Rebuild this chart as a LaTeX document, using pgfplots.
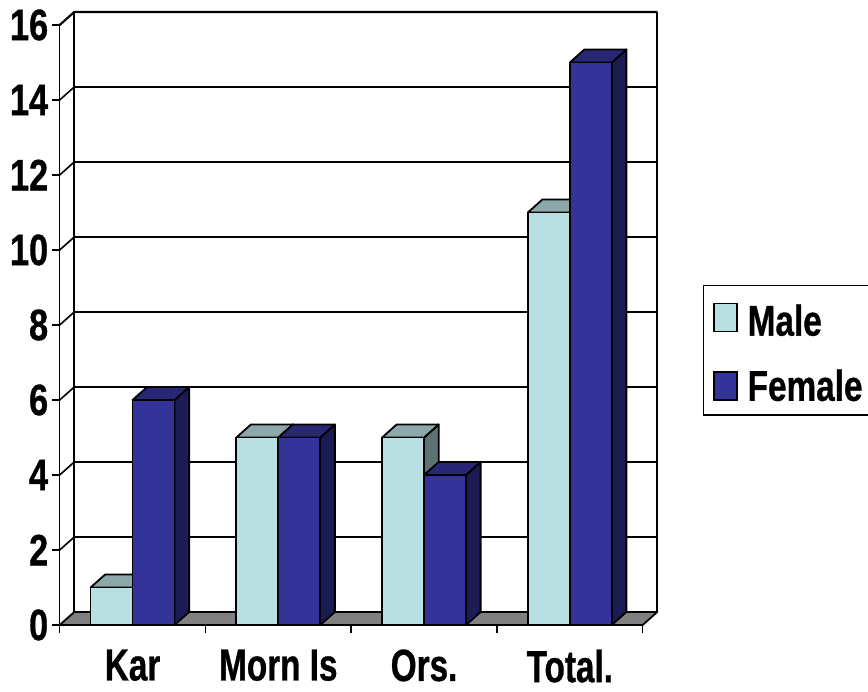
\documentclass[border=0pt]{standalone}
\usepackage{fontspec}
\setmainfont{Liberation Sans}[FakeStretch=0.78,BoldFeatures={FakeBold=0.7}]
\newfontfamily\xlabfont{Liberation Sans}[FakeStretch=0.74,BoldFeatures={FakeBold=0.7}]
\newfontfamily\legfont{Liberation Sans}[FakeStretch=0.775,BoldFeatures={FakeBold=0.7}]
\usepackage{pgfplots}
\pgfplotsset{compat=1.18}
\definecolor{maleF}{HTML}{B8E0E3}
\definecolor{maleT}{HTML}{8CA8AA}
\definecolor{maleS}{HTML}{5F7273}
\definecolor{femF}{HTML}{333399}
\definecolor{femT}{HTML}{272775}
\definecolor{femS}{HTML}{1C1C55}
\newcommand{\lab}{\fontsize{44}{44}\selectfont\bfseries}
\pgfplotsset{
 grid3d/.style={forget plot,black,line width=1.6pt},
 face/.style={forget plot,draw=black,line width=1.8pt,line join=round,fill=#1},
}
\begin{document}
\begin{tikzpicture}[x=1pt,y=1pt]
\path[use as bounding box] (0,0) rectangle (868,692);
\begin{axis}[
 at={(59.7pt,67pt)},anchor=south west,
 scale only axis,width=583pt,height=600pt,
 xmin=0,xmax=4,ymin=0,ymax=16,clip=false,
 axis x line*=bottom,axis y line*=left,
 axis line style={black,line width=1.5pt},
 xtick={0,1,2,3,4},xticklabels={},
 ytick={0,2,4,6,8,10,12,14,16},
 tick style={black,line width=1.5pt},
 major tick length=8pt,
 tick align=outside,
 extra x ticks={0.5,1.5,2.5,3.5},
 extra x tick labels={Kar,Morn Is,Ors.,Total.},
 extra x tick style={major tick length=0pt,tick label style={yshift=-21pt,font=\xlabfont\fontsize{45}{45}\selectfont\bfseries}},
 /pgf/number format/assume math mode=true,
 tick label style={font=\lab},
 legend cell align=left,
 legend style={at={(rel axis cs:1.103,0.567)},anchor=north west,draw=black,line width=1.5pt,
   font=\legfont\fontsize{43}{43}\selectfont\bfseries,inner xsep=10pt,inner ysep=10.6pt,
   row sep=28.5pt},
]
% back wall and floor
\addplot[forget plot,fill=white,draw=none] coordinates {(0.1,0.347)(4.1,0.347)(4.1,16.347)(0.1,16.347)} --cycle;
\addplot[face=gray!100!black,fill=black!50] coordinates {(0,0)(4,0)(4.1,0.347)(0.1,0.347)} --cycle;
% grid lines
\addplot[grid3d] coordinates {(0,2)(0.1,2.347)(4.1,2.347)};
\addplot[grid3d] coordinates {(0,4)(0.1,4.347)(4.1,4.347)};
\addplot[grid3d] coordinates {(0,6)(0.1,6.347)(4.1,6.347)};
\addplot[grid3d] coordinates {(0,8)(0.1,8.347)(4.1,8.347)};
\addplot[grid3d] coordinates {(0,10)(0.1,10.347)(4.1,10.347)};
\addplot[grid3d] coordinates {(0,12)(0.1,12.347)(4.1,12.347)};
\addplot[grid3d] coordinates {(0,14)(0.1,14.347)(4.1,14.347)};
\addplot[grid3d,line width=2.2pt] coordinates {(0,16)(0.1,16.347)(4.1,16.347)};
\addplot[grid3d,line width=2.2pt] coordinates {(0.1,0.347)(0.1,16.347)};
\addplot[grid3d] coordinates {(4.1,0.347)(4.1,16.347)};
% male
\addplot[face=maleS] coordinates {(0.5,0)(0.6,0.347)(0.6,1.347)(0.5,1)} --cycle;
\addplot[face=maleT] coordinates {(0.212,1)(0.5,1)(0.6,1.347)(0.312,1.347)} --cycle;
\addplot[face=maleS] coordinates {(1.5,0)(1.6,0.347)(1.6,5.347)(1.5,5)} --cycle;
\addplot[face=maleT] coordinates {(1.212,5)(1.5,5)(1.6,5.347)(1.312,5.347)} --cycle;
\addplot[face=maleS] coordinates {(2.5,0)(2.6,0.347)(2.6,5.347)(2.5,5)} --cycle;
\addplot[face=maleT] coordinates {(2.212,5)(2.5,5)(2.6,5.347)(2.312,5.347)} --cycle;
\addplot[face=maleS] coordinates {(3.5,0)(3.6,0.347)(3.6,11.347)(3.5,11)} --cycle;
\addplot[face=maleT] coordinates {(3.212,11)(3.5,11)(3.6,11.347)(3.312,11.347)} --cycle;
\addplot[ybar,bar width=42pt,bar shift=-21pt,draw=black,line width=1.8pt,fill=maleF,
  legend image code/.code={\draw[draw=black,line width=1.2pt,fill=maleF] (0pt,-14pt) rectangle (23pt,14pt);}]
  coordinates {(0.5,1)(1.5,5)(2.5,5)(3.5,11)};
\addlegendentry{\rule{0pt}{37.5pt}\hspace*{8pt}Male}
% female
\addplot[face=femS] coordinates {(0.788,0)(0.888,0.347)(0.888,6.347)(0.788,6)} --cycle;
\addplot[face=femT] coordinates {(0.5,6)(0.788,6)(0.888,6.347)(0.6,6.347)} --cycle;
\addplot[face=femS] coordinates {(1.788,0)(1.888,0.347)(1.888,5.347)(1.788,5)} --cycle;
\addplot[face=femT] coordinates {(1.5,5)(1.788,5)(1.888,5.347)(1.6,5.347)} --cycle;
\addplot[face=femS] coordinates {(2.788,0)(2.888,0.347)(2.888,4.347)(2.788,4)} --cycle;
\addplot[face=femT] coordinates {(2.5,4)(2.788,4)(2.888,4.347)(2.6,4.347)} --cycle;
\addplot[face=femS] coordinates {(3.788,0)(3.888,0.347)(3.888,15.347)(3.788,15)} --cycle;
\addplot[face=femT] coordinates {(3.5,15)(3.788,15)(3.888,15.347)(3.6,15.347)} --cycle;
\addplot[ybar,bar width=42pt,bar shift=21pt,draw=black,line width=1.8pt,fill=femF,
  legend image code/.code={\draw[draw=black,line width=1.2pt,fill=femF] (0pt,-14pt) rectangle (23pt,14pt);}]
  coordinates {(0.5,6)(1.5,5)(2.5,4)(3.5,15)};
\addlegendentry{\hspace*{8pt}Female}
\end{axis}
\end{tikzpicture}
\end{document}
